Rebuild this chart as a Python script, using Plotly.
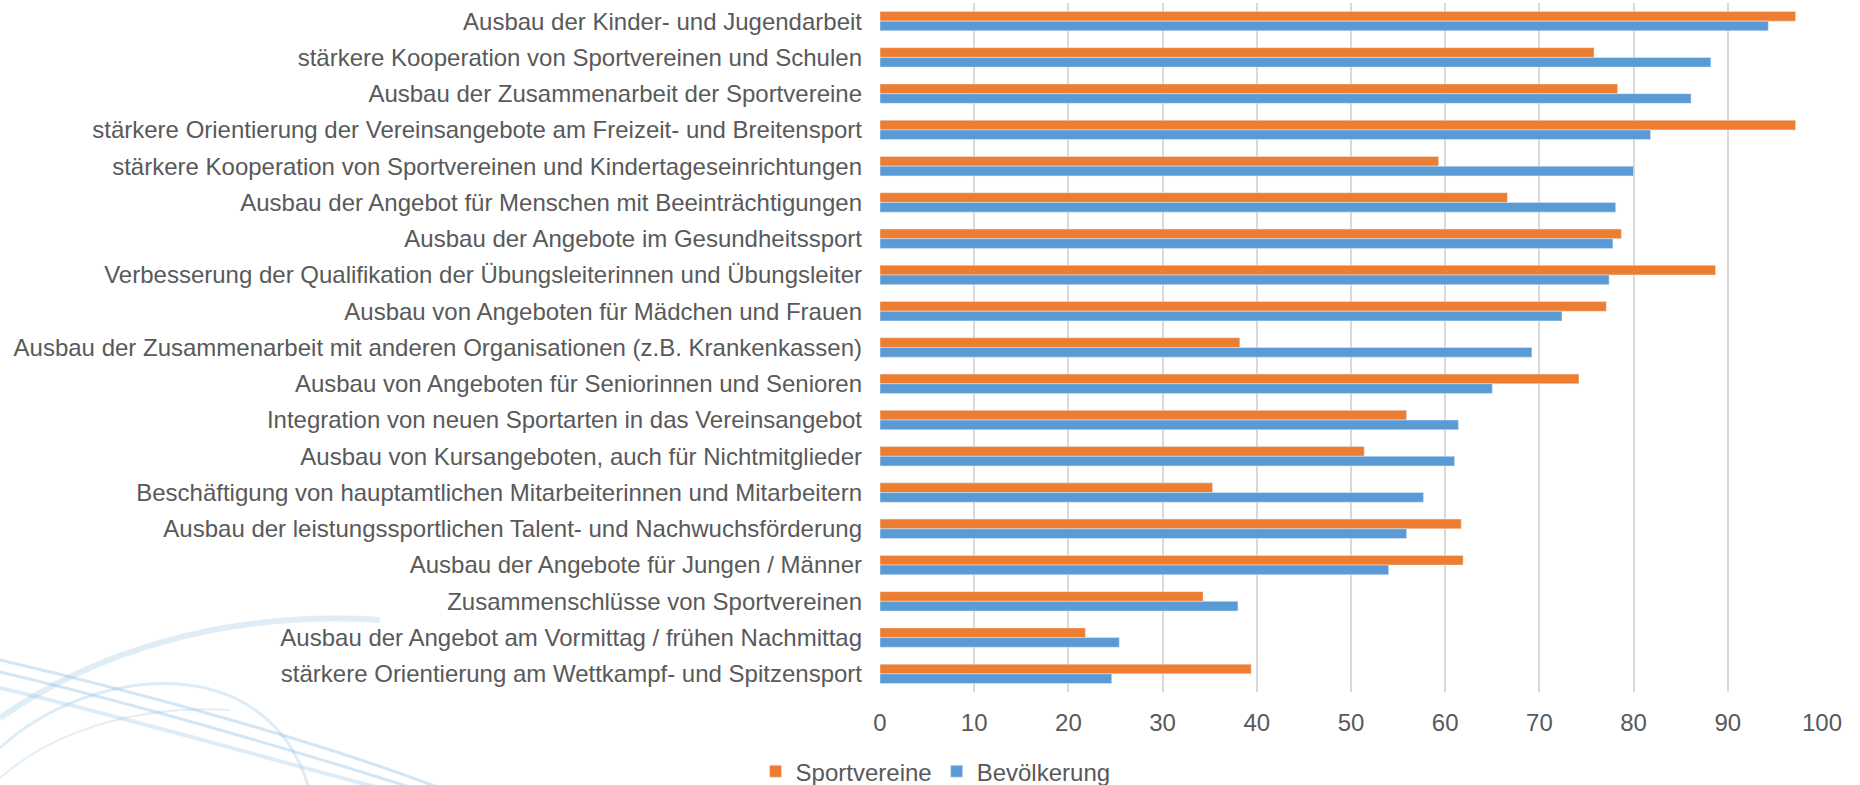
import plotly.graph_objects as go

categories = [
    "Ausbau der Kinder- und Jugendarbeit",
    "stärkere Kooperation von Sportvereinen und Schulen",
    "Ausbau der Zusammenarbeit der Sportvereine",
    "stärkere Orientierung der Vereinsangebote am Freizeit- und Breitensport",
    "stärkere Kooperation von Sportvereinen und Kindertageseinrichtungen",
    "Ausbau der Angebot für Menschen mit Beeinträchtigungen",
    "Ausbau der Angebote im Gesundheitssport",
    "Verbesserung der Qualifikation der Übungsleiterinnen und Übungsleiter",
    "Ausbau von Angeboten für Mädchen und Frauen",
    "Ausbau der Zusammenarbeit mit anderen Organisationen (z.B. Krankenkassen)",
    "Ausbau von Angeboten für Seniorinnen und Senioren",
    "Integration von neuen Sportarten in das Vereinsangebot",
    "Ausbau von Kursangeboten, auch für Nichtmitglieder",
    "Beschäftigung von hauptamtlichen Mitarbeiterinnen und Mitarbeitern",
    "Ausbau der leistungssportlichen Talent- und Nachwuchsförderung",
    "Ausbau der Angebote für Jungen / Männer",
    "Zusammenschlüsse von Sportvereinen",
    "Ausbau der Angebot am Vormittag / frühen Nachmittag",
    "stärkere Orientierung am Wettkampf- und Spitzensport",
]

sportvereine = [97.2, 75.8, 78.3, 97.2, 59.3, 66.6, 78.7, 88.7, 77.1, 38.2,
                74.2, 55.9, 51.4, 35.3, 61.7, 61.9, 34.3, 21.8, 39.4]
bevoelkerung = [94.3, 88.2, 86.1, 81.8, 80.0, 78.1, 77.8, 77.4, 72.4, 69.2,
                65.0, 61.4, 61.0, 57.7, 55.9, 54.0, 38.0, 25.4, 24.6]

x_ticks = [0, 10, 20, 30, 40, 50, 60, 70, 80, 90, 100]

ORANGE = "#ED7D31"
BLUE = "#5B9BD5"
TEXT = "#595959"
FONT = "Liberation Sans, Arial, sans-serif"
FS = 24

fig = go.Figure()
fig.add_trace(go.Bar(y=categories, x=sportvereine, name="Sportvereine",
                     orientation="h", marker=dict(color=ORANGE)))
fig.add_trace(go.Bar(y=categories, x=bevoelkerung, name="Bevölkerung",
                     orientation="h", marker=dict(color=BLUE)))

# decorative background swoosh (pixel coords -> paper coords)
W, H = 1860, 785
L, R, T, B = 880, 38, 3, 93
pw, ph = W - L - R, H - T - B


def px(x, y):
    return (x - L) / pw, (H - B - y) / ph


def path(pts):
    p = [px(*q) for q in pts]
    s = "M %f,%f C %f,%f %f,%f %f,%f" % (p[0][0], p[0][1], p[1][0], p[1][1],
                                          p[2][0], p[2][1], p[3][0], p[3][1])
    return s


swoosh = [
    ([(0, 718), (90, 655), (220, 610), (380, 620)], 6, 0.3),
    ([(0, 660), (150, 695), (330, 745), (450, 792)], 3, 0.42),
    ([(0, 672), (140, 705), (310, 755), (425, 792)], 3, 0.42),
    ([(0, 688), (130, 718), (290, 765), (395, 792)], 4, 0.32),
    ([(0, 748), (90, 665), (270, 645), (310, 792)], 3, 0.32),
    ([(0, 778), (60, 725), (150, 705), (230, 710)], 2, 0.28),
]
shapes = []
for pts, w, op in swoosh:
    shapes.append(dict(type="path", path=path(pts), xref="paper", yref="paper",
                       line=dict(color="rgba(150,195,230,%f)" % op, width=w),
                       layer="below"))

fig.update_layout(
    width=W, height=H,
    margin=dict(l=L, r=R, t=T, b=B, autoexpand=False),
    paper_bgcolor="white", plot_bgcolor="white",
    barmode="group", bargap=0.465, bargroupgap=0,
    font=dict(family=FONT, size=FS, color=TEXT),
    shapes=shapes,
    legend=dict(orientation="h", xref="container", yref="container",
                x=0.503, xanchor="center", y=0.017, yanchor="middle",
                font=dict(size=FS, color=TEXT), traceorder="normal",
                itemwidth=30),
    xaxis=dict(range=[0, 100], tickvals=x_ticks, showgrid=True,
               gridcolor="#D9D9D9", gridwidth=1.5, zeroline=False,
               showline=False, ticks="", ticklabelstandoff=14,
               tickfont=dict(size=FS, color=TEXT)),
    yaxis=dict(autorange="reversed", showgrid=False, zeroline=False,
               showline=False, ticks="", ticklabelstandoff=17,
               tickfont=dict(size=FS, color=TEXT)),
)

fig.write_html("out.html",
               config={"displayModeBar": False},
               post_script="document.body.style.margin='0';"
                           "document.body.style.padding='0';")
